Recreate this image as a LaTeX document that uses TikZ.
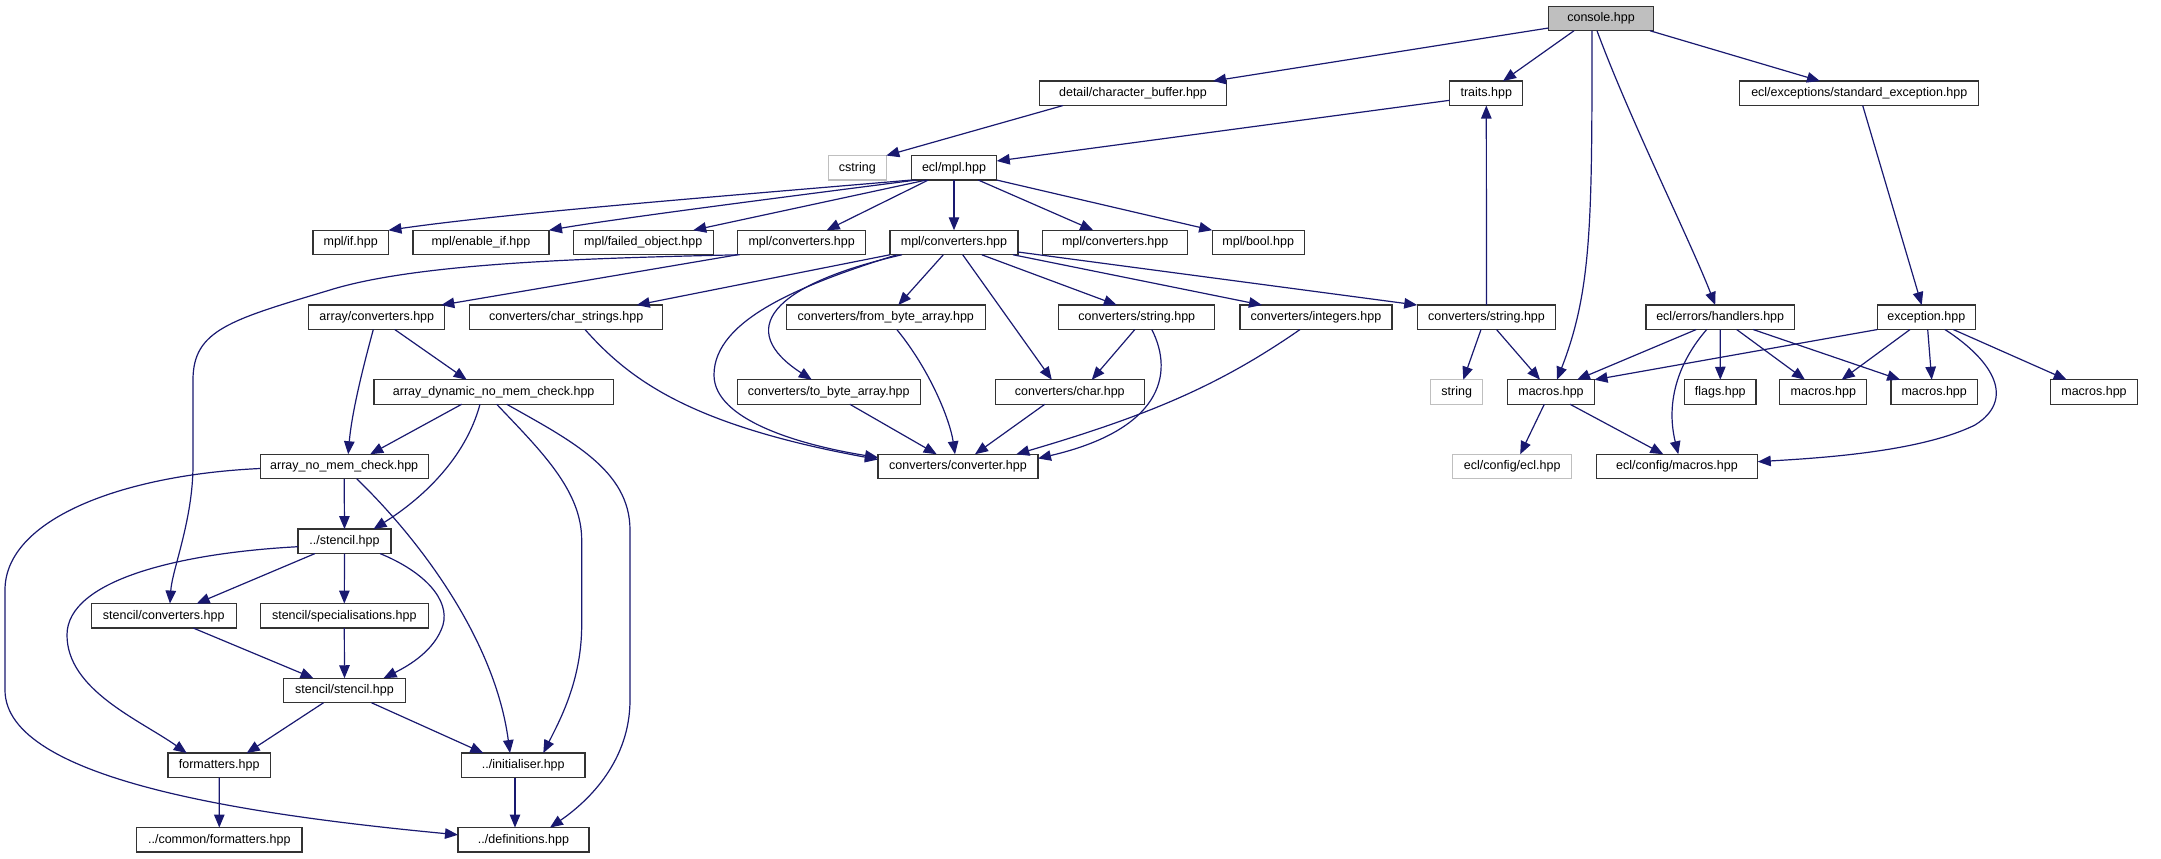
\documentclass[tikz,border=0pt]{standalone}
\usepackage{fontspec}
\setmainfont{Liberation Sans}
\usetikzlibrary{arrows.meta}
\definecolor{edgec}{HTML}{191970}
\definecolor{boxc}{HTML}{333333}
\definecolor{grayc}{HTML}{BFBFBF}
\definecolor{rootc}{HTML}{BFBFBF}
\tikzset{
  box/.style={draw=boxc, line width=1.2pt, fill=white, minimum height=24.5pt, inner sep=0pt, outer sep=0pt, font=\fontsize{12.5}{15}\selectfont},
  gbox/.style={box, draw=grayc},
  root/.style={box, fill=rootc},
  edge/.style={draw=edgec, line width=1.2pt, -{Triangle[length=13pt,width=10.5pt]}}
}
\begin{document}
\begin{tikzpicture}[x=1pt,y=-1pt]
\useasboundingbox (0,0) rectangle (2161,859);
% row 1-3
\node[root, minimum width=105pt] (console) at (1601,18.5) {console.hpp};
\node[box, minimum width=187pt] (charbuf) at (1133,93.3) {detail/character\_buffer.hpp};
\node[box, minimum width=73pt] (traits) at (1486.3,93.3) {traits.hpp};
\node[box, minimum width=239pt] (stdexc) at (1859.3,93.3) {ecl/exceptions/standard\_exception.hpp};
\node[gbox, minimum width=58pt] (cstring) at (857.3,167.8) {cstring};
\node[box, minimum width=85.5pt] (eclmpl) at (954,167.8) {ecl/mpl.hpp};
% row 4
\node[box, minimum width=75.5pt] (mplif) at (350.7,242.5) {mpl/if.hpp};
\node[box, minimum width=136pt] (enableif) at (481,242.5) {mpl/enable\_if.hpp};
\node[box, minimum width=140pt] (failed) at (643.2,242.5) {mpl/failed\_object.hpp};
\node[box, minimum width=128pt] (mplconvA) at (801.7,242.5) {mpl/converters.hpp};
\node[box, minimum width=128pt] (mplconvB) at (954,242.5) {mpl/converters.hpp};
\node[box, minimum width=145pt] (mplconvC) at (1115.2,242.5) {mpl/converters.hpp};
\node[box, minimum width=92pt] (mplbool) at (1258.2,242.5) {mpl/bool.hpp};
% row 5
\node[box, minimum width=136pt] (arrconv) at (376.8,317.3) {array/converters.hpp};
\node[box, minimum width=193pt] (charstr) at (566.2,317.3) {converters/char\_strings.hpp};
\node[box, minimum width=199pt] (frombyte) at (885.8,317.3) {converters/from\_byte\_array.hpp};
\node[box, minimum width=156pt] (strA) at (1136.8,317.3) {converters/string.hpp};
\node[box, minimum width=152pt] (integers) at (1316,317.3) {converters/integers.hpp};
\node[box, minimum width=138.5pt] (strB) at (1486.5,317.3) {converters/string.hpp};
\node[box, minimum width=148.5pt] (handlers) at (1720.2,317.3) {ecl/errors/handlers.hpp};
\node[box, minimum width=98pt] (exception) at (1926.3,317.3) {exception.hpp};
% row 6
\node[box, minimum width=239.5pt] (arrdyn) at (493.7,392) {array\_dynamic\_no\_mem\_check.hpp};
\node[box, minimum width=183pt] (tobyte) at (828.8,392) {converters/to\_byte\_array.hpp};
\node[box, minimum width=149pt] (charh) at (1069.8,392) {converters/char.hpp};
\node[gbox, minimum width=52pt] (stringg) at (1456.7,392) {string};
\node[box, minimum width=87pt] (macros) at (1551,392) {macros.hpp};
\node[box, minimum width=71.5pt] (flags) at (1720.3,392) {flags.hpp};
\node[box, minimum width=87pt] (macros2) at (1823.3,392) {macros.hpp};
\node[box, minimum width=86.5pt] (macros3) at (1934.2,392) {macros.hpp};
\node[box, minimum width=87pt] (macros4) at (2094,392) {macros.hpp};
% row 7
\node[box, minimum width=168pt] (arrnomem) at (344.2,466.5) {array\_no\_mem\_check.hpp};
\node[box, minimum width=160pt] (converter) at (958,466.5) {converters/converter.hpp};
\node[gbox, minimum width=119pt] (eclh) at (1512.2,466.5) {ecl/config/ecl.hpp};
\node[box, minimum width=161.5pt] (cfgmacros) at (1677,466.5) {ecl/config/macros.hpp};
% lower rows
\node[box, minimum width=93pt] (stencilh) at (344.5,541.3) {../stencil.hpp};
\node[box, minimum width=145pt] (stconv) at (163.7,615.8) {stencil/converters.hpp};
\node[box, minimum width=168pt] (stspec) at (344.3,615.8) {stencil/specialisations.hpp};
\node[box, minimum width=122pt] (ststencil) at (344.5,690.5) {stencil/stencil.hpp};
\node[box, minimum width=102.5pt] (formatters) at (219.2,765.3) {formatters.hpp};
\node[box, minimum width=123.5pt] (initialiser) at (523.3,765.3) {../initialiser.hpp};
\node[box, minimum width=165.5pt] (common) at (219.3,839.8) {../common/formatters.hpp};
\node[box, minimum width=131pt] (definitions) at (523.5,839.8) {../definitions.hpp};

% edges from console
\draw[edge] ([yshift=-9.5pt]console.west) -- ([xshift=80pt]charbuf.north);
\draw[edge] ([xshift=-27pt]console.south) -- ([xshift=16.7pt]traits.north);
\draw[edge] ([xshift=-9pt]console.south) .. controls (1592,220) and (1592,290) .. ([xshift=6pt]macros.north);
\draw[edge] ([xshift=-4pt]console.south) .. controls (1630,120) and (1690,240) .. ([xshift=-5pt]handlers.north);
\draw[edge] ([xshift=49pt]console.south) -- ([xshift=-39.3pt]stdexc.north);
% char buffer, traits, std exception
\draw[edge] ([xshift=-70pt]charbuf.south) -- (cstring.north east);
\draw[edge] ([yshift=-7pt]traits.west) -- ([yshift=6.8pt]eclmpl.east);
\draw[edge] ([xshift=3.4pt]stdexc.south) -- ([xshift=-4.6pt]exception.north);
% ecl/mpl
\draw[edge] (eclmpl.south west) .. controls (700,198) and (500,214) .. (mplif.north east);
\draw[edge] ([xshift=5pt]eclmpl.south west) .. controls (800,195) and (620,218) .. (enableif.north east);
\draw[edge] ([xshift=15pt]eclmpl.south west) -- ([xshift=50pt]failed.north);
\draw[edge] ([xshift=-25.7pt]eclmpl.south) -- ([xshift=25pt]mplconvA.north);
\draw[edge] (eclmpl.south) -- (mplconvB.north);
\draw[edge] ([xshift=24.3pt]eclmpl.south) -- ([xshift=-22pt]mplconvC.north);
\draw[edge] (eclmpl.south east) -- (mplbool.north west);
% mpl/converters A
\draw[edge] (mplconvA.south west) -- ([xshift=-3.5pt]arrconv.north east);
\draw[edge] ([xshift=2pt]mplconvA.south west) .. controls (600,258) and (420,262) .. (330,290)
  .. controls (230,320) and (193,330) .. (193,380) -- (193,465)
  .. controls (193,520) and (172,570) .. ([xshift=6.3pt]stconv.north);
% mpl/converters B
\draw[edge] ([xshift=-64pt]mplconvB.south) -- ([xshift=70.5pt]charstr.north);
\draw[edge] ([xshift=-57pt]mplconvB.south) .. controls (800,285) and (714,320) .. (714,375)
  .. controls (714,420) and (800,445) .. ([yshift=9pt]converter.west);
\draw[edge] ([xshift=-52pt]mplconvB.south) .. controls (770,285) and (735,330) .. ([xshift=-17pt]tobyte.north);
\draw[edge] ([xshift=-10.7pt]mplconvB.south) -- ([xshift=12.5pt]frombyte.north);
\draw[edge] ([xshift=8.7pt]mplconvB.south) -- ([xshift=-18pt]charh.north);
\draw[edge] ([xshift=27.7pt]mplconvB.south) -- ([xshift=-20pt]strA.north);
\draw[edge] ([xshift=-5pt]mplconvB.south east) -- ([xshift=-54pt]integers.north);
\draw[edge] ([yshift=-9.5pt]mplconvB.east) -- (strB.north west);
% array
\draw[edge] ([xshift=-3.5pt]arrconv.south) .. controls (365,360) and (352,410) .. ([xshift=4pt]arrnomem.north);
\draw[edge] ([xshift=18pt]arrconv.south) -- ([xshift=-27pt]arrdyn.north);
\draw[edge] ([xshift=-32pt]arrdyn.south) -- ([xshift=26pt]arrnomem.north);
\draw[edge] ([xshift=-13.7pt]arrdyn.south) .. controls (465,460) and (420,500) .. ([xshift=29pt]stencilh.north);
\draw[edge] ([xshift=3pt]arrdyn.south) .. controls (540,450) and (581.7,490) .. (581.7,540) -- (581.7,625)
  .. controls (581.7,680) and (560,720) .. ([xshift=20pt]initialiser.north);
\draw[edge] ([xshift=13pt]arrdyn.south) .. controls (570,440) and (630,470) .. (630,530) -- (630,700)
  .. controls (630,760) and (590,800) .. ([xshift=26.5pt]definitions.north);
\draw[edge] (arrnomem.south) -- (stencilh.north);
\draw[edge] ([yshift=-2pt]arrnomem.west) .. controls (120,475) and (5,520) .. (5,590) -- (5,690)
  .. controls (5,780) and (250,815) .. ([yshift=5pt]definitions.west);
\draw[edge] ([xshift=12.5pt]arrnomem.south) .. controls (420,540) and (495,640) .. ([xshift=-13.3pt]initialiser.north);
% stencil
\draw[edge] ([xshift=-29.5pt]stencilh.south) -- ([xshift=33pt]stconv.north);
\draw[edge] (stencilh.south) -- (stspec.north);
\draw[edge] ([xshift=35.5pt]stencilh.south) .. controls (425,572) and (450,600) .. (443,625)
  .. controls (435,650) and (410,665) .. ([xshift=39pt]ststencil.north);
\draw[edge] ([yshift=-5.4pt]stencilh.west) .. controls (180,553) and (67,580) .. (67,635)
  .. controls (67,690) and (140,720) .. ([xshift=-32.5pt]formatters.north);
\draw[edge] ([xshift=29.6pt]stconv.south) -- ([xshift=-31pt]ststencil.north);
\draw[edge] (stspec.south) -- (ststencil.north);
\draw[edge] ([xshift=-21pt]ststencil.south) -- ([xshift=27.5pt]formatters.north);
\draw[edge] ([xshift=27pt]ststencil.south) -- ([xshift=-40pt]initialiser.north);
\draw[edge] (formatters.south) -- (common.north);
\draw[edge] ([xshift=-8.3pt]initialiser.south) -- ([xshift=-8.5pt]definitions.north);
% converters
\draw[edge] ([xshift=18.8pt]charstr.south) .. controls (630,380) and (690,425) .. ([yshift=7pt]converter.west);
\draw[edge] ([xshift=11pt]frombyte.south) .. controls (930,370) and (950,420) .. ([xshift=-3pt]converter.north);
\draw[edge] ([xshift=21pt]tobyte.south) -- ([xshift=-21.3pt]converter.north);
\draw[edge] ([xshift=-25pt]charh.south) -- ([xshift=17pt]converter.north);
\draw[edge] ([xshift=-2pt]strA.south) -- ([xshift=22pt]charh.north);
\draw[edge] ([xshift=15pt]strA.south) .. controls (1175,375) and (1160,430) .. ([yshift=8pt]converter.east);
\draw[edge] ([xshift=-16pt]integers.south) .. controls (1220,385) and (1150,415) .. ([xshift=-21.7pt]converter.north east);
% string B
\draw[edge] (strB.north) -- (traits.south);
\draw[edge] ([xshift=-5.5pt]strB.south) -- ([xshift=6.6pt]stringg.north);
\draw[edge] ([xshift=10pt]strB.south) -- ([xshift=-11pt]macros.north);
% macros
\draw[edge] ([xshift=-6.7pt]macros.south) -- ([xshift=8pt]eclh.north);
\draw[edge] ([xshift=19pt]macros.south) -- ([xshift=-13.7pt]cfgmacros.north);
% handlers
\draw[edge] ([xshift=-24pt]handlers.south) -- ([xshift=26pt]macros.north);
\draw[edge] ([xshift=-13.5pt]handlers.south) .. controls (1680,360) and (1665,400) .. ([xshift=1.3pt]cfgmacros.north);
\draw[edge] (handlers.south) -- (flags.north);
\draw[edge] ([xshift=16.5pt]handlers.south) -- ([xshift=-18.3pt]macros2.north);
\draw[edge] ([xshift=33pt]handlers.south) -- ([xshift=-34pt]macros3.north);
% exception
\draw[edge] (exception.south west) -- (macros.north east);
\draw[edge] ([xshift=-16.3pt]exception.south) -- ([xshift=18.4pt]macros2.north);
\draw[edge] ([xshift=1.4pt]exception.south) -- ([xshift=-2.5pt]macros3.north);
\draw[edge] ([xshift=18.7pt]exception.south) .. controls (1995,362) and (2015,400) .. (1975,425)
  .. controls (1920,452) and (1820,458) .. ([yshift=4.8pt]cfgmacros.east);
\draw[edge] ([xshift=27pt]exception.south) -- ([xshift=-27.3pt]macros4.north);
\end{tikzpicture}
\end{document}
